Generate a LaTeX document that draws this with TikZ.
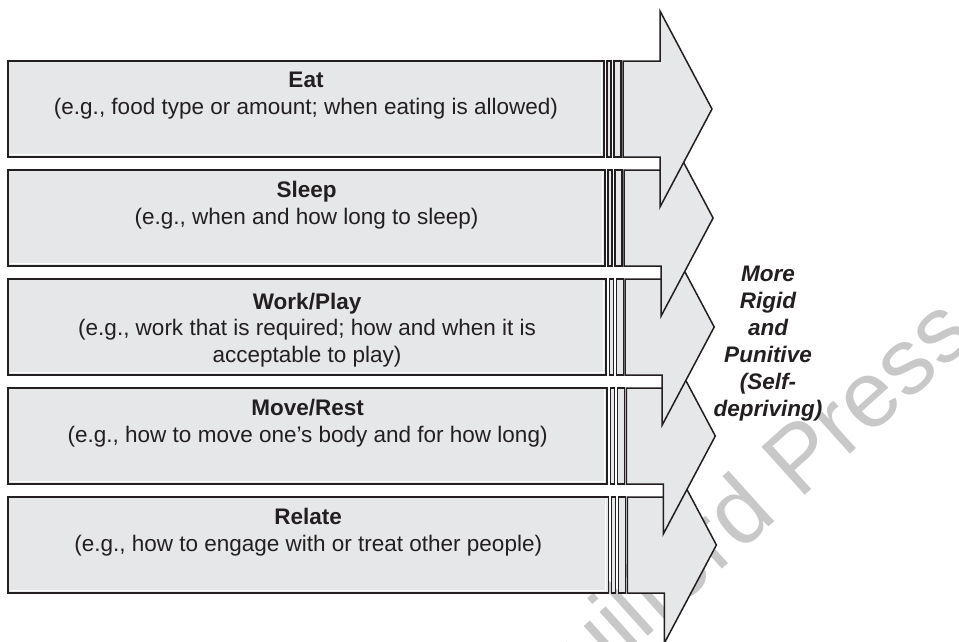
\documentclass[tikz,border=0pt]{standalone}
\usepackage{fontspec}
\setmainfont{Liberation Sans}
\definecolor{inkc}{RGB}{35,31,32}
\definecolor{boxc}{RGB}{230,231,233}
\definecolor{wmc}{RGB}{200,200,200}
\begin{document}
\begin{tikzpicture}[x=1pt,y=-1pt,
  box/.style={draw=inkc, fill=boxc, line width=1.7pt, inner sep=0pt, outer sep=0pt, anchor=north west},
  shine/.style={draw=white, line width=1.2pt},
  stripe/.style={draw=inkc, fill=boxc, line width=1.3pt},
  headshape/.style={draw=inkc, fill=boxc, line width=1.5pt, line join=miter},
  ttl/.style={font=\fontsize{22.5}{27}\selectfont\bfseries, text=inkc, inner sep=0pt, anchor=base},
  sub/.style={font=\fontsize{22.5}{27}\selectfont, text=inkc, inner sep=0pt, anchor=base, align=center},
  side/.style={font=\fontsize{22.5}{27}\selectfont\bfseries\itshape, text=inkc, inner sep=0pt, anchor=base, align=center},
  wmark/.style={font=\fontsize{94}{94}\selectfont, text=wmc, inner sep=0pt, anchor=base west, rotate=42}
]
\useasboundingbox (0,0) rectangle (959,641);

% publisher mark, behind the arrows
\node[wmark] (wm) at (535,738) {Guilford Press};

% five striped arrows, drawn bottom-up so each upper head overlaps the one below
% (row index / name / title / note / title baseline / last note baseline)
\foreach \k/\nm/\ttltext/\subtext/\off/\subofs in {
  4/relate/Relate/{(e.g., how to engage with or treat other people)}/27/54,
  3/moverest/{Move/Rest}/{(e.g., how to move one’s body and for how long)}/27/54,
  2/workplay/{Work/Play}/{(e.g., work that is required; how and when it is\\acceptable to play)}/30/83,
  1/sleep/Sleep/{(e.g., when and how long to sleep)}/27/54,
  0/eat/Eat/{(e.g., food type or amount; when eating is allowed)}/26/53}{
  \pgfmathsetmacro\c{109+109*\k}
  \pgfmathsetmacro\dx{1.1*\k}
  % text box
  \node[box, minimum width={596+\dx}, minimum height=96] (\nm) at (8,\c-48) {};
  \draw[shine] ([xshift=2pt,yshift=2.6pt]\nm.south west) -- ([xshift=-2.6pt,yshift=2.6pt]\nm.south east)
    -- ([xshift=-2.6pt,yshift=-2pt]\nm.north east);
  % twin stripes
  \draw[stripe] (607+\dx,\c-48) rectangle (611+\dx,\c+48);
  \draw[stripe] (614+\dx,\c-48) rectangle (621+\dx,\c+48);
  % arrow body and head
  \draw[headshape] (623+\dx,\c-48) -- (660+\dx,\c-48) -- (660+\dx,\c-98) -- (712+\dx,\c)
    -- (660+\dx,\c+98) -- (660+\dx,\c+48) -- (623+\dx,\c+48) -- cycle;
  % labels
  \node[ttl] (\nm-title) at ([yshift=-\off pt]\nm.north) {\ttltext};
  \node[sub] (\nm-note) at ([yshift=-\subofs pt]\nm.north) {\subtext};
}

% side label, anchored on its last baseline
\node[side] (trend) at (768,416) {More\\Rigid\\and\\Punitive\\(Self-\\depriving)};
\end{tikzpicture}
\end{document}
